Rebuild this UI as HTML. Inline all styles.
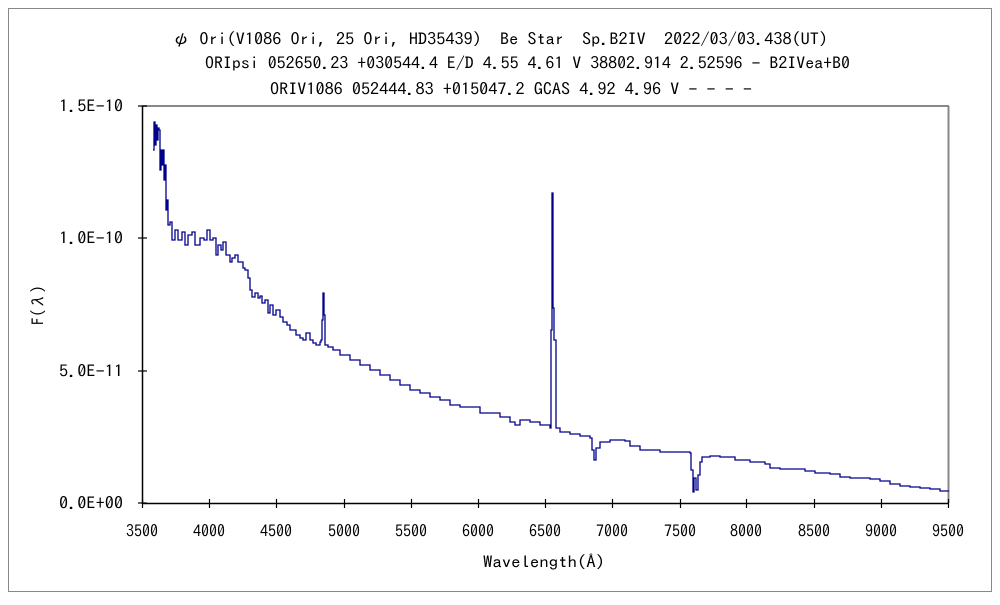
<!DOCTYPE html>
<html><head><meta charset="utf-8"><style>
body{margin:0;background:#fff;}
svg text{font-family:"IPAGothic","Noto Sans CJK JP",sans-serif;font-size:16px;fill:#000;}
</style></head><body>
<svg width="1000" height="600" xmlns="http://www.w3.org/2000/svg">
<rect x="0" y="0" width="1000" height="600" fill="#fff"/>
<rect x="8.5" y="8.5" width="983" height="583" fill="none" stroke="#888" stroke-width="1"/>
<text x="172" y="45" textLength="656" lengthAdjust="spacingAndGlyphs">ψ Ori(V1086 Ori, 25 Ori, HD35439)　Be Star　Sp.B2IV　2022/03/03.438(UT)</text>
<text x="205" y="69" textLength="645" lengthAdjust="spacingAndGlyphs">ORIpsi 052650.23 +030544.4 E/D 4.55 4.61 V 38802.914 2.52596 - B2IVea+B0</text>
<text x="270" y="95" textLength="482" lengthAdjust="spacingAndGlyphs">ORIV1086 052444.83 +015047.2 GCAS 4.92 4.96 V - - - -</text>
<line x1="142" y1="106" x2="949" y2="106" stroke="#888" stroke-width="2"/>
<line x1="948.5" y1="106" x2="948.5" y2="503" stroke="#888" stroke-width="2"/>
<line x1="142.5" y1="106" x2="142.5" y2="504" stroke="#000" stroke-width="1.5"/>
<line x1="142" y1="503.5" x2="949" y2="503.5" stroke="#000" stroke-width="1.5"/>
<g stroke="#000" stroke-width="1.2">
<line x1="138" y1="106" x2="147" y2="106"/><line x1="138" y1="238" x2="147" y2="238"/><line x1="138" y1="371" x2="147" y2="371"/><line x1="138" y1="503" x2="147" y2="503"/>
<line x1="142.5" y1="499" x2="142.5" y2="508"/><line x1="209.5" y1="499" x2="209.5" y2="508"/><line x1="276.5" y1="499" x2="276.5" y2="508"/><line x1="344.5" y1="499" x2="344.5" y2="508"/><line x1="411.5" y1="499" x2="411.5" y2="508"/><line x1="478.5" y1="499" x2="478.5" y2="508"/><line x1="545.5" y1="499" x2="545.5" y2="508"/><line x1="612.5" y1="499" x2="612.5" y2="508"/><line x1="680.5" y1="499" x2="680.5" y2="508"/><line x1="746.5" y1="499" x2="746.5" y2="508"/><line x1="814.5" y1="499" x2="814.5" y2="508"/><line x1="881.5" y1="499" x2="881.5" y2="508"/><line x1="948.5" y1="499" x2="948.5" y2="508"/>
</g>
<g text-anchor="end">
<text x="123" y="112" textLength="64" lengthAdjust="spacingAndGlyphs">1.5E-10</text><text x="123" y="244" textLength="64" lengthAdjust="spacingAndGlyphs">1.0E-10</text><text x="123" y="377" textLength="64" lengthAdjust="spacingAndGlyphs">5.0E-11</text><text x="123" y="509" textLength="64" lengthAdjust="spacingAndGlyphs">0.0E+00</text>
</g>
<g text-anchor="middle">
<text x="142" y="537">3500</text><text x="209" y="537">4000</text><text x="276" y="537">4500</text><text x="344" y="537">5000</text><text x="411" y="537">5500</text><text x="478" y="537">6000</text><text x="545" y="537">6500</text><text x="612" y="537">7000</text><text x="680" y="537">7500</text><text x="746" y="537">8000</text><text x="814" y="537">8500</text><text x="881" y="537">9000</text><text x="948" y="537">9500</text>
<text transform="translate(44,305) rotate(-90)">F(λ)</text>
</g>
<text x="483" y="568" textLength="122" lengthAdjust="spacingAndGlyphs">Wavelength(Å)</text>
<path fill="none" stroke="#00008b" stroke-width="1.3" d="M153 150 H154 V122 H155 V145 H156 V125 H157 V140 H158 V128 H159 V130 H160 V170 H161 V150 H162 V165 H163 V150 H164 V180 H165 V165 H166 V210 H167 V200 H168 V225 H170 V222 H172 V240 H175 V230 H178 V240 H182 V232 H185 V245 H188 V235 H192 V232 H195 V245 H200 V238 H204 V240 H207 V230 H210 V240 H213 V238 H216 V255 H218 V245 H221 V250 H223 V242 H226 V255 H230 V262 H232 V258 H235 V255 H238 V262 H240 V262 H243 V268 H245 V270 H248 V278 H250 V290 H252 V297 H255 V293 H258 V298 H260 V296 H262 V303 H265 V300 H268 V313 H270 V305 H273 V315 H276 V310 H280 V317 H283 V322 H287 V325 H290 V330 H293 V330 H296 V335 H300 V338 H303 V340 H306 V333 H310 V340 H313 V343 H316 V345 H320 V342 H321 V340 H322 V320 H323 V293 H324 V315 H325 V345 H328 V347 H333 V350 H340 V355 H350 V360 H360 V365 H370 V370 H380 V375 H390 V380 H400 V385 H410 V390 H420 V393 H430 V397 H440 V400 H450 V405 H460 V407 H480 V413 H500 V417 H510 V422 H515 V425 H520 V420 H530 V422 H540 V425 H550 V428 H551 V330 H552 V193 H553 V308 H554 V340 H556 V428 H560 V432 H570 V434 H580 V436 H590 V438 H592 V450 H594 V460 H596 V448 H600 V442 H610 V440 H625 V441 H630 V446 H640 V450 H660 V452 H680 V452 H690 V453 H691 V470 H693 V492 H694 V478 H696 V490 H698 V475 H700 V462 H702 V457 H710 V456 H720 V457 H735 V460 H750 V462 H765 V464 H770 V468 H780 V469 H800 V469 H805 V471 H815 V473 H830 V474 H840 V477 H850 V478 H870 V479 H880 V481 H890 V484 H900 V486 H910 V487 H920 V488 H930 V489 H940 V491 H949"/>
</svg>
</body></html>
